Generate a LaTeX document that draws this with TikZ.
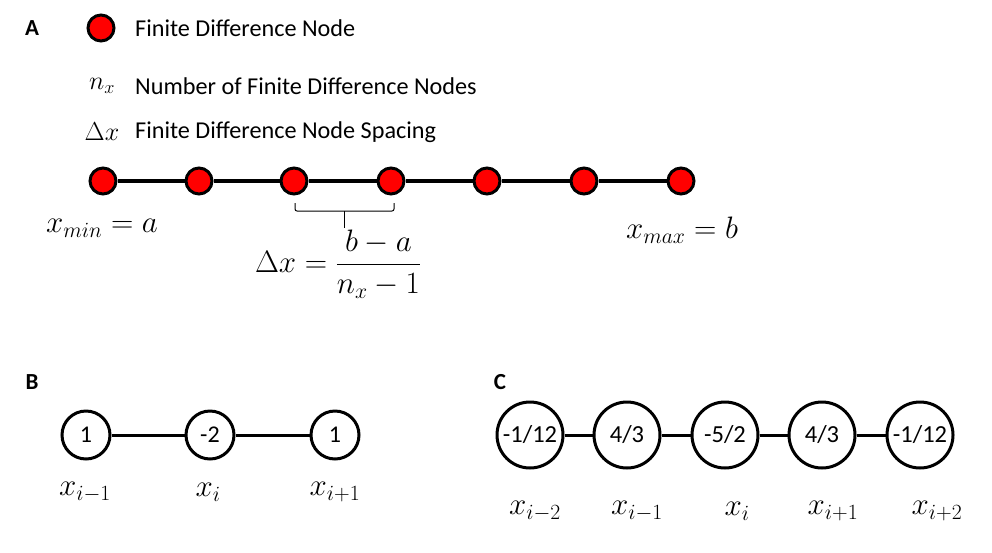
\RequirePackage{fix-cm}
\documentclass[tikz,border=0pt]{standalone}
\usepackage{fontspec}
\setmainfont{Carlito}
\usetikzlibrary{calc}
\begin{document}
\begin{tikzpicture}[x=1pt,y=-1pt,
  txt/.style={anchor=west,inner sep=0pt,font=\fontsize{24.2}{28}\selectfont},
  lbl/.style={inner sep=0pt,font=\fontsize{23}{28}\selectfont\bfseries},
  mth/.style={inner sep=0pt,font=\fontsize{31}{36}\selectfont},
  lmth/.style={inner sep=0pt,font=\fontsize{26}{30}\selectfont},
  fdnode/.style={circle,draw,fill=red,line width=3pt,minimum size=26pt,inner sep=0pt},
  stencilB/.style={circle,draw,line width=3pt,minimum size=48pt,inner sep=0pt,font=\fontsize{24}{28}\selectfont},
  stencilC/.style={circle,draw,line width=3pt,minimum size=66pt,inner sep=0pt,font=\fontsize{24.5}{28}\selectfont},
  link/.style={line width=3pt}]
\useasboundingbox (0,0) rectangle (992,552);
% labels
\node[lbl] (la) at (32,28) {A};
\node[lbl] (lb) at (32,382) {B};
\node[lbl] (lc) at (500,382) {C};
% legend
\node[fdnode] (leg) at (101,28) {};
\node[txt] (t1) at (135,28) {Finite Difference Node};
\node[lmth] (nx) at (102,86) {$n_x$};
\node[txt] (t2) at (135,86) {Number of Finite Difference Nodes};
\node[lmth] (dx) at (102,132) {$\Delta x$};
\node[txt] (t3) at (135,132) {Finite Difference Node Spacing};
% grid
\foreach \i/\x in {1/103,2/199,3/294,4/391,5/487,6/584,7/681}
  \node[fdnode] (n\i) at (\x,181) {};
\foreach \a/\b in {1/2,2/3,3/4,4/5,5/6,6/7}
  \draw[link,line width=3.5pt] (n\a) -- (n\b);
% brace
\coordinate (b1) at (295,203);
\coordinate (b2) at (295,211);
\coordinate (b3) at (394,211);
\coordinate (b4) at (394,203);
\coordinate (bm) at (344,211);
\coordinate (bt) at (344,228);
\draw[line width=1pt,rounded corners=2pt] (b1) -- (b2) -- (b3) -- (b4);
\draw[line width=1pt] (bm) -- (bt);
\node[mth] (xmin) at (102,228) {$x_{min}=a$};
\node[mth] (xmax) at (682,230) {$x_{max}=b$};
\node[mth] (dxf) at (338,264) {$\displaystyle \Delta x=\frac{b-a}{n_x-1}$};
% B
\node[stencilB] (p1) at (86,435) {1};
\node[stencilB] (p2) at (210,435) {-2};
\node[stencilB] (p3) at (335,435) {1};
\draw[link] (p1) -- (p2);
\draw[link] (p2) -- (p3);
\node[mth] (lp1) at (85,492) {$x_{i-1}$};
\node[mth] (lp2) at (208,492) {$x_{i}$};
\node[mth] (lp3) at (335,492) {$x_{i+1}$};
% C
\node[stencilC] (q1) at (530,435) {-1/12};
\node[stencilC] (q2) at (627,435) {4/3};
\node[stencilC] (q3) at (725,435) {-5/2};
\node[stencilC] (q4) at (822,435) {4/3};
\node[stencilC] (q5) at (920,435) {-1/12};
\foreach \a/\b in {1/2,2/3,3/4,4/5}
  \draw[link] (q\a) -- (q\b);
\node[mth] (lq1) at (535,511) {$x_{i-2}$};
\node[mth] (lq2) at (637,511) {$x_{i-1}$};
\node[mth] (lq3) at (737,511) {$x_{i}$};
\node[mth] (lq4) at (833,511) {$x_{i+1}$};
\node[mth] (lq5) at (937,511) {$x_{i+2}$};
\end{tikzpicture}
\end{document}
